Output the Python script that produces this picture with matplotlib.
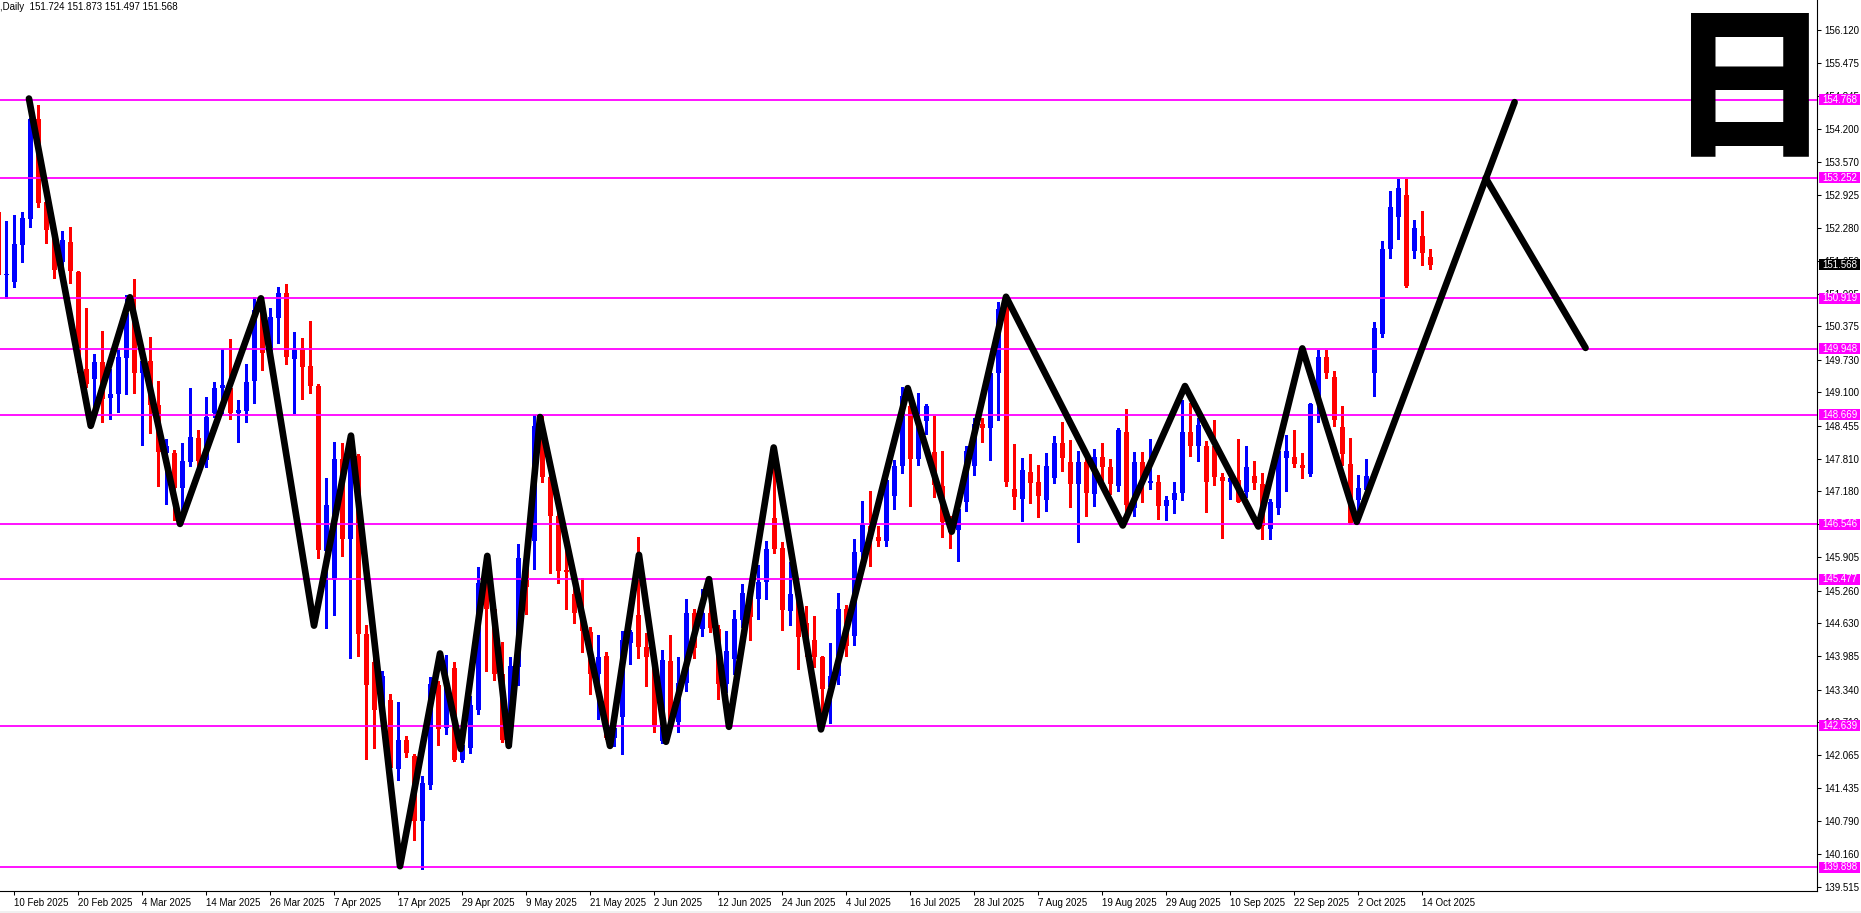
import matplotlib
matplotlib.use('Agg')
import matplotlib.pyplot as plt
import matplotlib.transforms as mtransforms
from matplotlib.patches import Rectangle
from matplotlib.textpath import TextPath
from matplotlib.font_manager import FontProperties
import numpy as np
import pandas as pd

plt.rcParams['font.family'] = ['Liberation Sans', 'DejaVu Sans']

# daily candles, first bar = 6 Feb 2025
opens = [152.60, 151.38, 151.24, 151.96, 152.46, 154.39, 152.78, 152.25, 151.63, 152.01,
         151.43, 149.56, 149.35, 149.68, 148.99, 149.06, 149.77, 150.60, 149.47, 149.71,
         148.85, 147.93, 147.93, 147.24, 147.74, 148.22, 147.78, 148.69, 149.18, 149.18,
         148.69, 148.74, 149.31, 150.69, 149.87, 150.54, 151.02, 149.74, 149.95, 149.61,
         149.23, 146.02, 145.46, 147.80, 146.25, 147.87, 144.41, 143.88, 142.95, 143.14,
         141.80, 142.36, 142.05, 140.79, 141.50, 143.42, 142.60, 143.75, 141.97, 142.21,
         142.95, 145.40, 144.90, 143.65, 142.42, 143.78, 145.89, 146.21, 148.44, 147.45,
         146.71, 145.66, 145.20, 144.82, 144.46, 143.64, 143.99, 142.41, 142.80, 144.25,
         144.78, 144.17, 143.97, 142.35, 143.90, 142.71, 143.47, 144.82, 144.51, 144.83,
         144.51, 143.44, 143.93, 144.69, 145.22, 145.09, 145.42, 146.66, 146.08, 144.86,
         145.09, 144.64, 144.31, 143.97, 143.40, 143.60, 144.91, 144.38, 146.01, 146.51,
         146.30, 146.22, 147.10, 147.67, 148.83, 147.80, 148.54, 147.94, 147.28, 146.59,
         146.44, 146.97, 147.68, 148.48, 148.40, 149.48, 150.77, 147.22, 147.04, 147.55,
         147.36, 147.01, 147.44, 148.12, 147.75, 147.33, 147.75, 147.12, 147.85, 147.66,
         147.28, 148.34, 146.86, 147.75, 147.35, 147.37, 146.90, 147.01, 147.15, 148.34,
         148.05, 148.05, 148.05, 147.45, 147.37, 147.41, 147.16, 147.48, 147.32, 146.45,
         146.85, 147.83, 147.84, 147.69, 147.51, 148.90, 149.78, 149.39, 148.43, 147.71,
         147.01, 147.20, 149.47, 150.23, 151.87, 152.49, 152.92, 151.84, 152.13, 151.724]
highs = [152.70, 152.42, 152.53, 152.59, 154.42, 154.66, 152.82, 152.30, 152.22, 152.30,
         151.45, 150.73, 149.85, 150.29, 149.56, 149.95, 150.98, 151.29, 149.85, 150.18,
         149.32, 148.20, 147.98, 148.12, 149.19, 148.37, 149.01, 149.29, 149.93, 150.13,
         148.95, 149.65, 150.95, 150.89, 150.73, 151.13, 151.20, 150.26, 150.15, 150.49,
         149.27, 147.43, 148.14, 148.12, 147.91, 147.90, 144.59, 144.00, 143.70, 143.26,
         143.10, 142.45, 142.10, 141.67, 143.58, 143.50, 144.02, 143.88, 142.60, 143.21,
         145.72, 145.50, 145.00, 144.27, 143.98, 146.17, 146.00, 148.66, 148.64, 147.50,
         146.80, 146.06, 145.30, 145.50, 144.56, 144.40, 144.06, 142.90, 144.48, 144.50,
         146.30, 144.44, 144.00, 144.10, 144.39, 143.98, 145.09, 144.90, 145.28, 145.00,
         144.60, 144.48, 144.88, 145.38, 145.30, 145.75, 146.22, 147.90, 146.20, 145.81,
         145.20, 144.96, 144.77, 144.00, 144.25, 145.22, 144.97, 146.25, 146.99, 147.19,
         146.51, 147.50, 147.78, 149.20, 149.00, 149.09, 148.88, 148.65, 147.96, 146.70,
         146.90, 148.06, 148.60, 148.61, 149.60, 150.85, 150.95, 148.09, 147.83, 147.90,
         147.70, 147.93, 148.25, 148.52, 148.17, 147.97, 147.90, 148.00, 148.12, 147.80,
         148.40, 148.77, 147.94, 147.94, 148.19, 147.50, 147.10, 147.36, 148.96, 148.90,
         148.60, 148.15, 148.56, 147.53, 147.50, 148.20, 148.06, 147.77, 147.53, 147.03,
         147.98, 148.27, 148.37, 147.92, 148.90, 149.92, 149.92, 149.51, 148.83, 148.21,
         147.50, 147.80, 150.46, 152.03, 153.00, 153.23, 153.23, 152.44, 152.61, 151.873]
lows = [151.20, 150.92, 151.13, 151.63, 152.31, 152.68, 152.00, 151.32, 151.53, 151.22,
        149.50, 149.20, 148.69, 148.53, 148.59, 148.71, 149.07, 149.08, 148.07, 148.32,
        147.29, 146.93, 146.63, 146.75, 147.67, 147.66, 147.65, 148.63, 148.70, 148.59,
        148.14, 148.52, 148.90, 149.53, 149.79, 150.05, 149.65, 148.69, 148.97, 149.08,
        145.89, 144.53, 144.78, 145.93, 143.96, 143.99, 142.00, 142.20, 142.80, 141.70,
        141.58, 142.03, 140.43, 139.86, 141.42, 142.26, 142.49, 141.95, 141.93, 142.11,
        142.87, 143.71, 143.52, 142.32, 142.25, 143.42, 144.80, 145.67, 147.36, 145.60,
        145.41, 144.90, 144.63, 144.06, 143.25, 142.78, 142.38, 142.25, 142.10, 143.84,
        143.95, 143.41, 142.52, 142.30, 142.57, 142.52, 143.31, 143.96, 144.38, 144.45,
        143.15, 143.30, 143.65, 144.55, 144.30, 144.70, 145.09, 145.98, 144.49, 144.59,
        143.73, 144.00, 143.77, 142.60, 142.70, 143.44, 144.00, 144.20, 145.90, 145.73,
        146.12, 146.12, 146.84, 147.54, 146.90, 147.69, 148.30, 147.07, 146.30, 146.09,
        145.83, 146.80, 147.49, 148.13, 147.78, 148.57, 147.28, 146.84, 146.61, 146.96,
        146.69, 146.80, 147.35, 147.57, 146.87, 146.20, 146.71, 146.90, 147.40, 147.12,
        147.19, 146.60, 146.70, 146.98, 147.22, 146.65, 146.62, 146.77, 147.01, 147.86,
        147.76, 146.79, 147.30, 146.28, 147.03, 146.97, 147.08, 147.22, 146.25, 146.25,
        146.74, 147.18, 147.65, 147.43, 147.48, 148.53, 149.38, 148.45, 147.70, 146.54,
        146.60, 147.10, 149.02, 150.18, 151.71, 152.07, 151.13, 151.71, 151.57, 151.497]
closes = [151.37, 151.40, 151.97, 152.48, 154.39, 152.77, 152.25, 151.46, 152.05, 151.44,
          149.60, 149.27, 149.68, 148.97, 149.07, 149.79, 150.63, 149.47, 149.71, 148.85,
          147.95, 148.05, 147.24, 147.76, 148.24, 147.77, 148.63, 149.19, 149.24, 148.69,
          148.76, 149.29, 150.69, 149.87, 150.56, 151.02, 149.79, 149.92, 149.59, 149.23,
          146.04, 146.92, 147.80, 146.25, 147.80, 144.41, 143.42, 142.95, 143.61, 141.82,
          142.36, 142.11, 140.79, 141.53, 143.44, 142.57, 143.42, 141.97, 142.26, 143.05,
          145.40, 144.90, 143.65, 142.37, 143.79, 145.89, 145.32, 148.44, 147.45, 146.71,
          145.64, 145.62, 144.82, 144.48, 143.65, 143.98, 142.41, 142.60, 144.31, 144.45,
          144.17, 143.97, 142.65, 143.91, 142.73, 143.47, 144.82, 144.15, 144.83, 144.54,
          143.44, 144.09, 144.70, 145.22, 144.75, 145.43, 146.06, 146.06, 144.88, 145.19,
          144.35, 144.31, 143.97, 143.35, 143.60, 144.91, 144.18, 146.01, 146.52, 146.25,
          146.22, 147.41, 147.68, 149.03, 147.80, 148.48, 148.83, 147.30, 146.59, 146.40,
          146.83, 147.96, 148.48, 148.40, 149.48, 150.72, 147.36, 147.07, 147.59, 147.35,
          147.09, 147.68, 148.12, 147.83, 147.33, 147.75, 147.14, 147.85, 147.65, 147.32,
          148.36, 146.91, 147.75, 147.33, 147.38, 146.90, 147.02, 147.15, 148.34, 148.06,
          148.47, 147.37, 147.45, 147.39, 147.43, 146.98, 147.65, 147.35, 146.50, 146.98,
          147.96, 147.96, 147.71, 147.63, 148.87, 149.78, 149.48, 148.56, 147.90, 146.56,
          147.24, 147.47, 150.34, 151.87, 152.68, 153.05, 151.15, 152.28, 151.80, 151.568]
dates = pd.bdate_range('2025-02-06', periods=len(opens))

# horizontal levels (magenta) and last price
level_prices = [154.768, 153.252, 150.919, 149.948, 148.669, 146.546, 145.477, 142.639, 139.898]
last_price = 151.568
header = ',Daily  151.724 151.873 151.497 151.568'
price_ticks = [156.120, 155.475, 154.845, 154.200, 153.570, 152.925, 152.280, 151.650,
               151.005, 150.375, 149.730, 149.100, 148.455, 147.810, 147.180, 146.545,
               145.905, 145.260, 144.630, 143.985, 143.340, 142.710, 142.065, 141.435,
               140.790, 140.160, 139.515]

# hand drawn zigzag (bar position, price)
zig_x = [3.83, 11.55, 16.46, 22.71, 32.83, 39.46, 44.08, 50.21, 55.21, 57.80, 61.12,
         63.80, 67.71, 76.46, 80.08, 83.46, 88.83, 91.33, 96.92, 102.83, 113.67, 119.17,
         125.96, 140.55, 148.33, 157.50, 163.00, 169.80, 189.53]
zig_y = [154.79, 148.45, 150.94, 146.55, 150.92, 144.58, 148.26, 139.92, 144.04, 142.19,
         145.93, 142.25, 148.62, 142.25, 145.95, 142.33, 145.48, 142.62, 148.03, 142.57,
         149.18, 146.40, 150.95, 146.52, 149.22, 146.50, 149.95, 146.59, 154.72]
proj_x = [185.92, 198.40]
proj_y = [153.25, 149.96]

W, H = 1861, 913
fig = plt.figure(figsize=(W / 100, H / 100), dpi=100)
fig.patch.set_facecolor('white')
ax = fig.add_axes([0, 22 / H, 1817 / W, 891 / H])
ax.set_xlim(0.21, 227.33)
ax.set_ylim(139.439, 156.699)

o = np.array(opens)
h = np.array(highs)
l = np.array(lows)
c = np.array(closes)
x = np.arange(len(o))
col = np.where(c >= o, '#0000FF', '#FF0000')

# candles
ax.vlines(x, l, h, colors=col, linewidth=0.75, antialiased=False, zorder=2)
body = np.maximum(np.abs(c - o), 0.02)
ax.bar(x, body, bottom=np.minimum(o, c), width=0.62, color=col, linewidth=0,
       antialiased=False, zorder=2.1)

for p in level_prices:
    ax.axhline(p, color='#FF00FF', lw=1.3, zorder=3)

ax.plot(zig_x, zig_y, color='black', lw=4.8, solid_joinstyle='round',
        solid_capstyle='round', zorder=5)
ax.plot(proj_x, proj_y, color='black', lw=4.8, solid_capstyle='round', zorder=5)

# axes look
for s in ['top', 'left']:
    ax.spines[s].set_visible(False)
for s in ['right', 'bottom']:
    ax.spines[s].set_linewidth(0.8)
ax.yaxis.tick_right()
ax.set_yticks(price_ticks)
ax.set_yticklabels([f'{t:.3f}' for t in price_ticks])
ax.tick_params(axis='y', direction='out', length=3, width=0.75, pad=2, labelsize=7)
tick_idx = list(range(2, len(opens), 8))
ax.set_xticks(tick_idx)
ax.set_xticklabels([f'{d.day} {d:%b %Y}' for d in dates[tick_idx]], ha='left')
ax.tick_params(axis='x', direction='out', length=3, width=0.75, pad=2, labelsize=7)

# price boxes on the right scale
trans = mtransforms.blended_transform_factory(ax.transAxes, ax.transData)
ppx = (156.699 - 139.439) / 891
for p, fc in [(v, '#FF00FF') for v in level_prices] + [(last_price, 'black')]:
    ax.add_patch(Rectangle((1819 / 1817, p - 5.5 * ppx), 41 / 1817, 11 * ppx,
                           transform=trans, facecolor=fc, edgecolor='none',
                           clip_on=False, zorder=6))
    ax.text(1822 / 1817, p, f'{p:.3f}', transform=trans, color='white', fontsize=7,
            va='center', ha='left', clip_on=False, zorder=7)

fig.text(0.0, 1 - 7.5 / H, header, fontsize=7, va='center', ha='left')

# big 日 in the top right corner, ink box about x 1694-1807, y 9-156 px
fp = FontProperties(family='Noto Sans CJK JP', weight='black')
ext = TextPath((0, 0), '日', size=1, prop=fp).get_extents()
size_px = 144 / ext.height
baseline = (H - 156) - ext.y0 * size_px
fig.text(1749.5 / W, baseline / H, '日', fontproperties=fp, fontsize=size_px * 0.72,
         ha='center', va='baseline')

# thin grey strip under the date scale
fig.patches.append(Rectangle((0, 0), 1, 2 / H, transform=fig.transFigure,
                             facecolor='#F0F0F0', edgecolor='none'))

fig.savefig('out.png', dpi=100)
